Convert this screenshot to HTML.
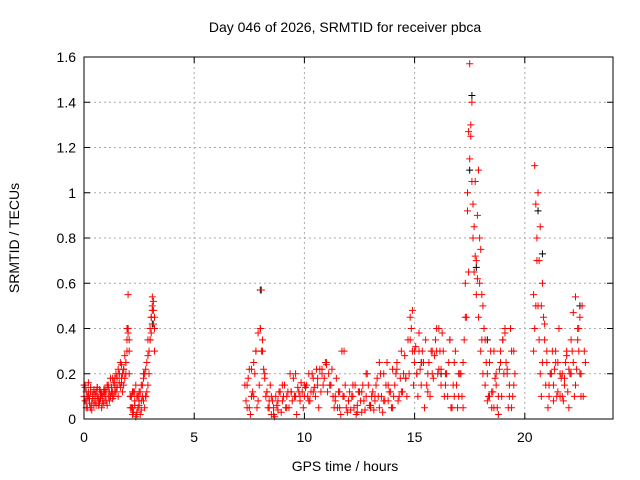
<!DOCTYPE html>
<html><head><meta charset="utf-8"><style>
body{margin:0;background:#fff;}
svg{display:block;font-family:"Liberation Sans",sans-serif;}
</style></head><body>
<svg id="chart" width="640" height="480">
<text x="345" y="32" font-size="14" text-anchor="middle">Day 046 of 2026, SRMTID for receiver pbca</text>
<text x="345" y="471" font-size="14" text-anchor="middle">GPS time / hours</text>
<text x="19" y="238" font-size="14" text-anchor="middle" transform="rotate(-90 19 238)">SRMTID / TECUs</text>
<g id="grid"></g><g id="ticks"></g><g id="marksB"></g><g id="marksR"></g>
<rect x="84" y="57" width="529" height="362" fill="none" stroke="#000"/>
</svg>
<script>
const xTicks=[0,5,10,15,20];
const yTicks=[0,0.2,0.4,0.6,0.8,1,1.2,1.4,1.6];
const yTickLabels=["0","0.2","0.4","0.6","0.8","1","1.2","1.4","1.6"];
// segment sampling: start hour, step (hours)
const segAStart=0, segAStep=0.05;
const segBStart=7.3, segBStep=0.1;
const segCStart=20.4, segCStep=0.1;
const segA1=[0.15,0.08,0.12,0.05,0.1,0.09,0.14,0.07,0.11,0.06,
0.08,0.12,0.1,0.06,0.13,0.09,0.11,0.07,0.12,0.1,
0.08,0.15,0.1,0.12,0.18,0.14,0.09,0.16,0.12,0.2,
0.14,0.22,0.16,0.25,0.18,0.12,0.22,0.28,0.2,0.35,
0.4,0.3,0.1,0.05,0.12,0.03,0.08,0.15,0.02,0.1,
0.06,0.12,0.04,0.15,0.08,0.2,0.1,0.25,0.15,0.3,
0.35,0.45,0.5,0.42,0.3];
const segA2=[0.1,0.14,0.05,0.1,0.16,0.07,0.12,0.04,0.09,0.13,
0.11,0.06,0.14,0.09,0.08,0.12,0.05,0.1,0.07,0.13,
0.12,0.06,0.14,0.08,0.1,0.12,0.18,0.1,0.15,0.12,
0.18,0.1,0.2,0.14,0.24,0.2,0.15,0.18,0.25,0.3,
0.38,0.2,0.05,0.1,0.02,0.12,0.06,0.01,0.1,0.05,
0.12,0.02,0.08,0.1,0.18,0.05,0.22,0.12,0.35,0.2,
0.4,0.38,0.48,0.52,0.45];
const segB1=[0.15,0.05,0.22,0.1,0.25,0.3,0.38,0.4,
0.3,0.2,0.12,0.08,0.02,0.05,0.1,0.04,0.12,0.08,
0.15,0.1,0.05,0.12,0.18,0.1,0.14,0.08,0.12,0.1,
0.15,0.2,0.12,0.18,0.1,0.15,0.22,0.2,0.18,0.24,
0.2,0.15,0.1,0.08,0.05,0.12,0.3,0.1,0.05,0.08,
0.04,0.1,0.15,0.06,0.12,0.03,0.08,0.1,0.15,0.05,
0.12,0.08,0.18,0.05,0.1,0.2,0.15,0.08,0.12,0.22,
0.15,0.25,0.1,0.3,0.2,0.18,0.35,0.45,0.3,0.25,
0.2,0.3,0.15,0.25,0.35,0.2,0.1,0.3,0.28,0.4,
0.22,0.15,0.3,0.2,0.1,0.35,0.05,0.25,0.15,0.1,
0.2,0.25,0.6,1.0,1.15,1.4,0.85,0.7,1.1,0.75,
0.5,0.35,0.2,0.1,0.05,0.3,0.15,0.02,0.25,0.35,
0.38,0.2,0.1,0.3,0.15];
const segB2=[0.08,0.18,0.02,0.12,0.2,0.05,0.15,0.3,
0.22,0.1,0.05,0.15,0.08,0.01,0.06,0.12,0.03,0.1,
0.05,0.12,0.2,0.08,0.1,0.02,0.12,0.16,0.05,0.14,
0.1,0.08,0.2,0.14,0.22,0.05,0.12,0.15,0.25,0.12,
0.15,0.22,0.05,0.18,0.12,0.02,0.1,0.15,0.03,0.12,
0.1,0.05,0.02,0.12,0.08,0.15,0.04,0.2,0.06,0.1,
0.04,0.15,0.1,0.2,0.03,0.08,0.25,0.12,0.05,0.1,
0.2,0.08,0.18,0.12,0.28,0.1,0.2,0.4,0.15,0.32,
0.1,0.22,0.3,0.05,0.15,0.25,0.3,0.18,0.35,0.2,
0.3,0.38,0.1,0.2,0.25,0.05,0.15,0.3,0.05,0.2,
0.1,0.35,0.45,0.65,1.25,0.95,1.05,0.62,0.8,0.55,
0.4,0.25,0.1,0.3,0.12,0.18,0.05,0.22,0.1,0.2,
0.25,0.05,0.4,0.1,0.2];
const segC1=[0.3,0.5,1.0,0.85,0.6,0.35,0.25,0.1,0.2,0.15,0.3,0.25,0.1,0.2,0.15,0.3,0.05,0.2,0.25,0.15,0.35,0.45,0.5,0.3];
const segC2=[0.4,0.8,0.7,0.5,0.45,0.15,0.05,0.2,0.3,0.22,0.1,0.4,0.18,0.08,0.25,0.12,0.2,0.3,0.1,0.22,0.4,0.2,0.1,0.25];
const redHours=[0.05,0.1,0.2,0.3,0.4,0.5,0.6,0.7,0.8,0.9,1.0,1.1,1.2,1.3,1.4,1.5,1.6,1.7,1.8,1.9,1.95,2.0,2.05,2.1,2.2,2.3,2.4,2.5,2.6,2.7,2.8,2.9,3.0,3.05,3.1,3.15,3.2,
7.4,7.5,7.6,7.7,7.8,7.9,8.0,8.05,8.1,8.2,8.3,8.4,8.5,8.6,8.8,9.0,9.2,9.4,9.6,9.8,10.0,10.2,10.4,10.6,10.8,11.0,11.2,11.4,11.6,11.8,12.0,12.2,12.4,12.6,12.8,13.0,13.2,13.4,13.6,13.8,14.0,14.2,14.4,14.6,14.8,14.9,15.0,15.1,15.2,15.4,15.6,15.8,16.0,16.1,16.2,16.4,16.6,16.8,17.0,17.2,17.3,17.4,17.45,17.5,17.55,17.6,17.65,17.7,17.75,17.8,17.85,17.9,17.95,18.0,18.05,18.1,18.2,18.3,18.4,18.5,18.6,18.7,18.8,18.9,19.0,19.1,19.2,19.3,19.4,19.5,
20.4,20.45,20.5,20.55,20.6,20.65,20.7,20.75,20.8,20.9,21.0,21.1,21.2,21.3,21.4,21.5,21.6,21.7,21.8,21.9,22.0,22.1,22.2,22.3,22.4,22.45,22.5,22.55,22.6,22.7];
const redValues=[0.15,0.08,0.12,0.05,0.1,0.09,0.14,0.07,0.11,0.13,0.08,0.15,0.1,0.12,0.18,0.14,0.2,0.16,0.22,0.25,0.4,0.55,0.35,0.1,0.05,0.12,0.03,0.08,0.15,0.2,0.1,0.28,0.35,0.45,0.54,0.48,0.4,
0.15,0.05,0.22,0.1,0.3,0.08,0.4,0.57,0.35,0.18,0.12,0.05,0.1,0.02,0.08,0.15,0.05,0.12,0.2,0.1,0.15,0.08,0.12,0.18,0.22,0.25,0.15,0.1,0.05,0.3,0.08,0.15,0.03,0.12,0.2,0.06,0.1,0.25,0.08,0.15,0.05,0.22,0.12,0.18,0.35,0.48,0.3,0.2,0.38,0.25,0.12,0.2,0.3,0.4,0.22,0.15,0.35,0.1,0.2,0.05,0.45,0.92,1.27,1.57,1.3,1.05,0.8,0.65,0.72,0.55,0.9,0.45,0.6,0.3,0.35,0.2,0.15,0.08,0.25,0.12,0.05,0.2,0.1,0.3,0.35,0.4,0.22,0.15,0.05,
0.3,0.55,1.12,0.95,0.7,0.5,0.35,0.2,0.1,0.25,0.42,0.3,0.15,0.2,0.08,0.25,0.12,0.2,0.1,0.18,0.28,0.22,0.35,0.47,0.54,0.4,0.3,0.2,0.1];
const blackHours=[2.0,3.1,8.0,17.6,17.8,20.6,20.8,22.5,17.5,18.3,15.3,16.2];
const blackValues=[0.4,0.42,0.57,1.43,0.67,0.92,0.73,0.5,1.1,0.35,0.25,0.2];
const X=h=>84+h*22.04, Y=v=>419-v*226.25;
const NS="http://www.w3.org/2000/svg";
const grid=document.getElementById('grid'),ticks=document.getElementById('ticks');
const mB=document.getElementById('marksB'),mR=document.getElementById('marksR');
function el(t,a,p){const e=document.createElementNS(NS,t);for(const k in a)e.setAttribute(k,a[k]);p.appendChild(e);return e;}
xTicks.forEach((t,i)=>{
 const g=el('line',{x1:X(t),x2:X(t),y1:57,y2:419,stroke:'#aaa','stroke-dasharray':'2,3'},grid);
 
 
 const tk=el('path',{d:`M${X(t)},419v-6M${X(t)},57v6`,stroke:'#000'},ticks);
 
 
 const s=el('text',{x:X(t),y:442,'font-size':14,'text-anchor':'middle'},ticks);s.textContent=t;
 
 
});
yTicks.forEach((t,i)=>{
 const g=el('line',{x1:84,x2:613,y1:Y(t),y2:Y(t),stroke:'#aaa','stroke-dasharray':'2,3'},grid);
 
 
 const tk=el('path',{d:`M84,${Y(t)}h6M613,${Y(t)}h-6`,stroke:'#000'},ticks);
 
 
 const s=el('text',{x:76,y:Y(t)+5,'font-size':14,'text-anchor':'end'},ticks);s.textContent=yTickLabels[i];
 
 
});
function plus(p,x,y,c,name){
 const e=el('path',{d:`M${x-3.5},${y}h7M${x},${y-3.5}v7`,stroke:c,'stroke-width':1},p);
 
 
}
blackHours.forEach((h,i)=>plus(mB,X(h),Y(blackValues[i]),'#000','black-point'));
[[segA1,segAStart,segAStep],[segA2,segAStart,segAStep],[segB1,segBStart,segBStep],[segB2,segBStart+0.05,segBStep],[segC1,segCStart,segCStep],[segC2,segCStart+0.05,segCStep]].forEach(([arr,st,sp])=>{
 arr.forEach((v,i)=>plus(mR,X(st+i*sp),Y(v),'#f00','red-point'));
});
redHours.forEach((h,i)=>plus(mR,X(h),Y(redValues[i]),'#f00','red-point'));
</script>
</body></html>
